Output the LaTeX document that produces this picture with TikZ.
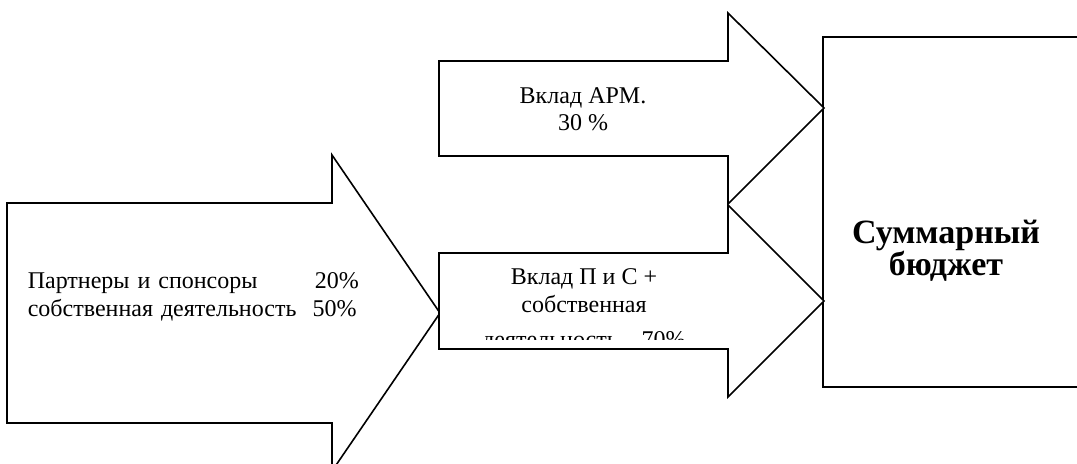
\documentclass[tikz,border=0pt]{standalone}
\usepackage{fontspec}
\setmainfont{Liberation Serif}
\newcommand\tightlines{\lineskiplimit=-20pt\relax}
\begin{document}
\begin{tikzpicture}[x=0.5pt, y=-0.5pt, line width=0.8pt]
\tikzset{
  blockarrow/.style={draw=black, fill=white, line join=miter},
  lbl/.style={inner sep=0pt, anchor=base, font=\fontsize{12}{14}\selectfont}
}
\useasboundingbox (0,0) rectangle (1077,464);
% budget box
\draw[blockarrow] (823,37) rectangle (1090,387);
\node[lbl, align=center, font={\fontsize{17}{16}\bfseries\tightlines}] (sumtxt) at (946,276) {Суммарный\\бюджет};
% left arrow
\draw[blockarrow] (7,203) -- (332,203) -- (332,155) -- (440,313) -- (332,471) -- (332,423) -- (7,423) -- cycle;
\node[lbl, align=left, text width=165.5pt, anchor=base west] (partxt) at (27,289)
  {Партнеры и спонсоры\hfill 20\%\\собственная деятельность~~50\%};
% lower arrow
\draw[blockarrow] (439,253) -- (728,253) -- (728,205) -- (824,301) -- (728,397) -- (728,349) -- (439,349) -- cycle;
\node[lbl, align=center] (pstxt) at (584,313) {Вклад П и С +\\собственная};
\begin{scope}
  \clip (439,253) rectangle (728,340);
  \node[lbl] (pstxtb) at (584,348) {деятельность – 70\%};
\end{scope}
% upper arrow
\draw[blockarrow] (439,61) -- (728,61) -- (728,13) -- (824,108) -- (728,204) -- (728,156) -- (439,156) -- cycle;
\node[lbl, align=center, font=\fontsize{12}{13.5}\selectfont] (armtxt) at (583,131) {Вклад АРМ.\\30 \%};
\end{tikzpicture}
\end{document}
